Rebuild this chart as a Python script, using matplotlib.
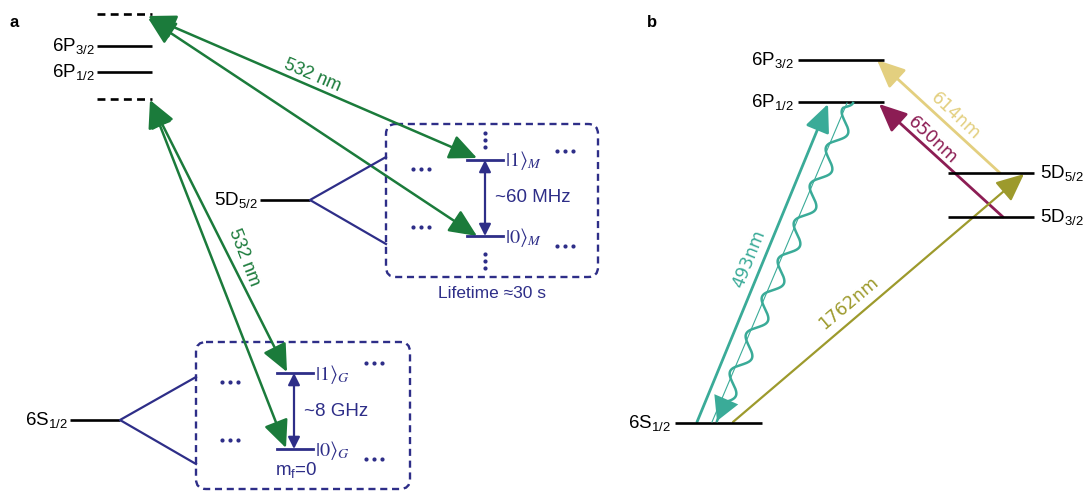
import numpy as np
import matplotlib
matplotlib.use("Agg")
import matplotlib.pyplot as plt
from matplotlib.patches import FancyArrowPatch, FancyBboxPatch, ArrowStyle

plt.rcParams['font.family'] = ['Liberation Sans', 'DejaVu Sans']
plt.rcParams['mathtext.fontset'] = 'custom'
plt.rcParams['mathtext.rm'] = 'Liberation Sans'
plt.rcParams['mathtext.it'] = 'Liberation Sans:italic'

# ---------------- data (diagram coordinates, pixel-like units) ----------------
# panel a levels: (x0, x1, y, label, dashed)
a_levels = [
    (97, 152, 14, None, True),
    (97, 152, 46, r'6P$_{3/2}$', False),
    (97, 152, 72, r'6P$_{1/2}$', False),
    (97, 152, 99, None, True),
    (260, 310, 200, r'5D$_{5/2}$', False),
    (70, 120, 420, r'6S$_{1/2}$', False),
]
# fans: origin, upper tip, lower tip
a_fans = [((310, 200), (386, 157), (386, 244)),
          ((120, 420), (196, 377), (196, 464))]
# boxes: x0, y0, x1, y1
a_boxes = [(386, 124, 598, 277), (196, 342, 410, 489)]
# qubit sublevels: x0, x1, y, ket label
a_sub = [(467, 503, 160, r'$|1\rangle_{\mathit{M}}$'), (467, 503, 236, r'$|0\rangle_{\mathit{M}}$'),
         (277, 313, 373, r'$|1\rangle_{\mathit{G}}$'), (277, 313, 449, r'$|0\rangle_{\mathit{G}}$')]
a_split = [(485, 160, 236, '~60 MHz'), (294, 373, 449, '~8 GHz')]
hdots = [(421, 169), (421, 227), (565, 151), (565, 246),
         (230, 382), (230, 440), (374, 363), (374, 459)]
vdots = [(485, 140), (485, 261)]
# green 532 nm transitions: (start, end)
green_arrows = [((148, 16), (477, 158)), ((148, 18), (477, 236)),
                ((150, 100), (287, 372)), ((150, 100), (286, 448))]
green_labels = [(312, 76, -23), (244, 257, -69)]

# panel b levels
b_levels = [
    (798, 884, 60, r'6P$_{3/2}$', 'left'),
    (798, 884, 102, r'6P$_{1/2}$', 'left'),
    (948, 1034, 173, r'5D$_{5/2}$', 'right'),
    (948, 1034, 217, r'5D$_{3/2}$', 'right'),
    (675, 762, 423, r'6S$_{1/2}$', 'left'),
]
# b transitions: start, end, colour, label, label pos, rotation, linewidth
b_arrows = [
    ((697, 422), (828, 104), '#3aab98', '493nm', (749, 259), 68, 2.0),
    ((1003, 217), (879, 104), '#8c1d54', '650nm', (933, 140), -43, 2.0),
    ((1000, 173), (877, 60), '#e3cf7f', '614nm', (955, 116), -43, 2.0),
    ((733, 422), (1024, 174), '#9d9a2c', '1762nm', (849, 303), 40, 1.6),
]
wave_start, wave_end = (853, 103), (717, 421)
thin_start, thin_end = (847, 103), (712, 422)

BLUE = '#2e2e88'
GREEN = '#1b7b3b'
TEAL = '#3aab98'

fig = plt.figure(figsize=(10.86, 4.91), dpi=100)
ax = fig.add_axes([0, 0, 1, 1])
ax.set_xlim(0, 1086)
ax.set_ylim(491, 0)
ax.axis('off')

ax.text(10, 22, 'a', fontsize=12, fontweight='bold', va='center', ha='left')
ax.text(647, 22, 'b', fontsize=12, fontweight='bold', va='center', ha='left')

# panel a
for x0, x1, y, lab, dashed in a_levels:
    ax.plot([x0, x1], [y, y], color='black', lw=1.9,
            ls=(0, (3, 2)) if dashed else '-', solid_capstyle='butt')
    if lab:
        ax.text(x0 - 2, y, lab, fontsize=13.5, ha='right', va='center')

for o, u, l in a_fans:
    ax.plot([u[0], o[0], l[0]], [u[1], o[1], l[1]], color=BLUE, lw=1.6)

for x0, y0, x1, y1 in a_boxes:
    ax.add_patch(FancyBboxPatch((x0, y0), x1 - x0, y1 - y0,
                                boxstyle='round,pad=0,rounding_size=10',
                                fill=False, ec=BLUE, lw=1.7, ls=(0, (3, 2))))

for x0, x1, y, lab in a_sub:
    ax.plot([x0, x1], [y, y], color=BLUE, lw=2.0)
    ax.text(x1 + 2, y + 1, lab, fontsize=14.5, color=BLUE, ha='left', va='center',
            math_fontfamily='stix')

for x, y0, y1, lab in a_split:
    ax.add_patch(FancyArrowPatch((x, y0), (x, y1), arrowstyle=ArrowStyle('<|-|>', head_length=0.5, head_width=0.25),
                                 mutation_scale=14, color=BLUE, lw=1.6, shrinkA=0, shrinkB=0))
    ax.text(x + 10, (y0 + y1) / 2, lab, fontsize=13.5, color=BLUE, ha='left', va='center')

ax.text(275, 470, r'm$_{\mathrm{f}}$=0', fontsize=13.5, color=BLUE, ha='left', va='center')
ax.text(492, 294, 'Lifetime ≈30 s', fontsize=12.5, color=BLUE, ha='center', va='center')

for x, y in hdots:
    ax.plot([x - 8, x, x + 8], [y, y, y], 'o', color=BLUE, ms=3.0, mec='none')
for x, y in vdots:
    ax.plot([x, x, x], [y - 7, y, y + 7], 'o', color=BLUE, ms=3.0, mec='none')

for s, e in green_arrows:
    ax.add_patch(FancyArrowPatch(s, e, arrowstyle=ArrowStyle('<|-|>', head_length=1.0, head_width=0.45),
                                 mutation_scale=17, color=GREEN, lw=1.8, shrinkA=0, shrinkB=0))
for x, y, r in green_labels:
    ax.text(x, y, '532 nm', fontsize=13, color=GREEN, rotation=r,
            rotation_mode='anchor', ha='center', va='center')

# panel b
for x0, x1, y, lab, side in b_levels:
    ax.plot([x0, x1], [y, y], color='black', lw=1.9, solid_capstyle='butt')
    if side == 'left':
        ax.text(x0 - 4, y, lab, fontsize=13.5, ha='right', va='center')
    else:
        ax.text(x1 + 6, y, lab, fontsize=13.5, ha='left', va='center')

ax.plot([thin_start[0], thin_end[0]], [thin_start[1], thin_end[1]], color=TEAL, lw=0.8)

# wavy spontaneous-emission line
A = np.array(wave_start, float)
B = np.array(wave_end, float)
d = B - A
L = np.hypot(*d)
u = d / L
nrm = np.array([-u[1], u[0]])
t = np.linspace(0, 1, 800)
n_per = 8.5
off = 7.5 * np.sin(2 * np.pi * n_per * t) * np.clip((L * t) / 8, 0, 1) * np.clip((L * (1 - t) - 14) / 10, 0, 1)
pts = A[None, :] + (t[:, None] * d[None, :]) + off[:, None] * nrm[None, :]
ax.plot(pts[:, 0], pts[:, 1], color=TEAL, lw=1.8)
ax.add_patch(FancyArrowPatch(tuple(B - u * 20), tuple(B), arrowstyle=ArrowStyle('-|>', head_length=1.0, head_width=0.55),
                             mutation_scale=17, color=TEAL, lw=0, shrinkA=0, shrinkB=0))

for s, e, c, lab, pos, rot, lw in b_arrows:
    ax.add_patch(FancyArrowPatch(s, e, arrowstyle=ArrowStyle('-|>', head_length=1.0, head_width=0.45),
                                 mutation_scale=17, color=c, lw=lw, shrinkA=0, shrinkB=0))
    ax.text(pos[0], pos[1], lab, fontsize=12.5, color=c, rotation=rot, family='DejaVu Sans',
            rotation_mode='anchor', ha='center', va='center')

fig.savefig('out.png', dpi=100)
